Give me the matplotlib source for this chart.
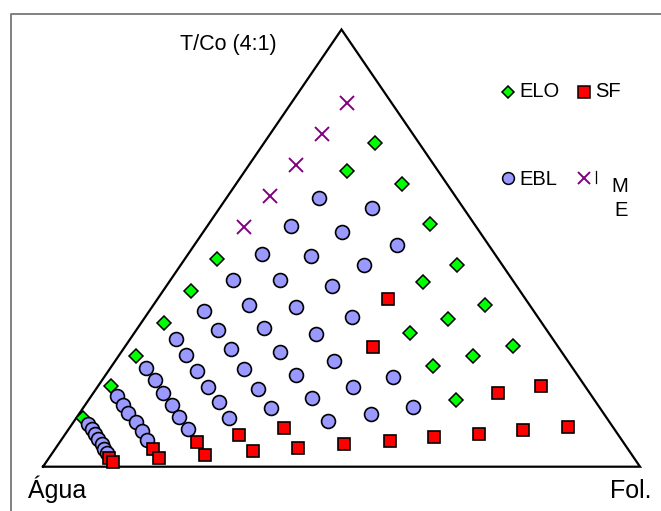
import matplotlib.pyplot as plt
import numpy as np

plt.rcParams['font.family'] = ['Liberation Sans', 'DejaVu Sans']

# ternary compositions in %: Fol. and T/Co (4:1); Água = 100 - Fol. - T/Co
elo_fol = [18.6, 17.1, 27.8, 37.0, 5.4, 46.3, 42.6, 4.7, 55.5, 50.9,
           3.9, 46.2, 64.9, 3.0, 59.3, 53.8, 2.2, 61.6, 1.1]
elo_tco = [74.0, 67.6, 64.7, 55.5, 47.5, 46.1, 42.2, 40.2, 37.0, 33.8,
           32.9, 30.6, 27.6, 25.3, 25.3, 23.0, 18.5, 15.3, 11.1]

ebl_fol = [15.5, 25.5, 14.0, 23.3, 33.9, 12.4, 20.8, 30.7, 10.4, 18.3,
           27.7, 9.2, 16.0, 24.2, 34.7, 7.7, 13.7, 21.1, 30.5, 6.0,
           11.2, 18.0, 26.6, 36.6, 8.9, 14.9, 22.5, 31.9, 42.8, 48.3,
           11.7, 18.5, 27.1, 37.2, 48.9, 55.2, 14.5, 22.1, 31.5, 42.5,
           17.1, 25.6, 20.0, 4.3, 6.3, 8.1, 10.5, 12.5, 14.3, 2.6,
           3.9, 5.0, 6.0, 7.3, 8.2, 9.1]
ebl_tco = [61.5, 59.2, 55.1, 53.7, 50.7, 48.7, 48.2, 46.1, 42.7, 42.7,
           41.3, 35.6, 37.0, 36.5, 34.2, 29.2, 31.3, 31.7, 30.4, 22.6,
           25.5, 26.9, 26.2, 24.2, 19.8, 21.9, 22.3, 21.0, 18.2, 20.5,
           16.9, 18.2, 17.8, 15.7, 12.1, 13.7, 14.1, 14.8, 13.4, 10.5,
           11.4, 11.1, 8.6, 16.2, 14.1, 12.3, 10.2, 8.2, 6.1, 9.8,
           8.6, 7.5, 6.3, 5.2, 4.0, 3.1]

sf_fol = [38.6, 41.6, 74.2, 67.8, 83.4, 76.2, 69.3, 62.1, 55.1, 47.8,
          36.0, 40.6, 29.2, 33.4, 23.0, 25.8, 16.4, 18.4, 10.1, 11.2]
sf_tco = [38.4, 27.4, 18.5, 16.9, 9.1, 8.4, 7.5, 6.8, 5.9, 5.2,
          8.9, 4.3, 7.3, 3.6, 5.6, 2.7, 4.0, 2.0, 2.0, 1.1]

me_fol = [9.3, 8.6, 7.9, 7.0, 6.3]
me_tco = [83.2, 76.1, 69.0, 61.9, 54.8]


def tern(fol, tco):
    fol = np.asarray(fol) / 100.0
    tco = np.asarray(tco) / 100.0
    return fol + tco / 2, tco


W, H = 661, 511
fig = plt.figure(figsize=(W / 100, H / 100), dpi=100)

# ternary axes: triangle base-left at pixel (43, 466.7), 597 px wide, 437 px high
x0, y0, bw, bh = 43, 466.7, 597, 437.2
ax = fig.add_axes([0, 0, 1, 1])
ax.set_xlim(-x0 / bw, (W - x0) / bw)
ax.set_ylim(-(H - y0) / bh, y0 / bh)
ax.axis('off')

ax.plot([0, 1, 0.5, 0], [0, 0, 1, 0], color='black', lw=1.6, zorder=1,
        solid_joinstyle='miter')

x, y = tern(elo_fol, elo_tco)
ax.plot(x, y, 'D', ms=7.4, mfc='#00ff00', mec='black', mew=1.1, ls='none', zorder=2)
x, y = tern(ebl_fol, ebl_tco)
for xi, yi in zip(x, y):
    ax.plot(xi, yi, 'o', ms=10, mfc='#9999ff', mec='black', mew=1.2, zorder=3)
x, y = tern(sf_fol, sf_tco)
for xi, yi in zip(x, y):
    ax.plot(xi, yi, 's', ms=9.3, mfc='#ff0000', mec='black', mew=1.2, zorder=4)
x, y = tern(me_fol, me_tco)
ax.plot(x, y, 'x', ms=9.4, mec='#800080', mew=1.4, ls='none', zorder=5)

# overlay in pixel coordinates for frame, labels and legend
lax = fig.add_axes([0, 0, 1, 1])
lax.set_xlim(0, W)
lax.set_ylim(H, 0)
lax.axis('off')
lax.patch.set_alpha(0)

lax.plot([10.5, 10.5, W + 5], [H + 5, 14.5, 14.5], color='#808080', lw=1.4)

lax.text(180, 50, 'T/Co (4:1)', fontsize=15.5, va='baseline', ha='left')
lax.text(28, 498, 'Água', fontsize=18, va='baseline', ha='left')
lax.text(610, 498, 'Fol.', fontsize=18, va='baseline', ha='left')

lax.plot(508, 92, 'D', ms=6.2, mfc='#00ff00', mec='black', mew=1.1)
lax.text(519, 97, 'ELO', fontsize=14.5, va='baseline')
lax.plot(584, 92, 's', ms=8, mfc='#ff0000', mec='black', mew=1.1)
lax.text(595, 97, 'SF', fontsize=14.5, va='baseline')
lax.plot(508, 178, 'o', ms=8.5, mfc='#9999ff', mec='black', mew=1.1)
lax.text(519, 185, 'EBL', fontsize=14.5, va='baseline')
lax.plot(584, 178, 'x', ms=8.5, mec='#800080', mew=1.4)
lax.plot([596, 596], [171, 183], color='black', lw=0.9)
lax.text(620, 192, 'M', fontsize=14.5, va='baseline', ha='center')
lax.text(621, 216, 'E', fontsize=14.5, va='baseline', ha='center')

fig.savefig('out.png', dpi=100)
